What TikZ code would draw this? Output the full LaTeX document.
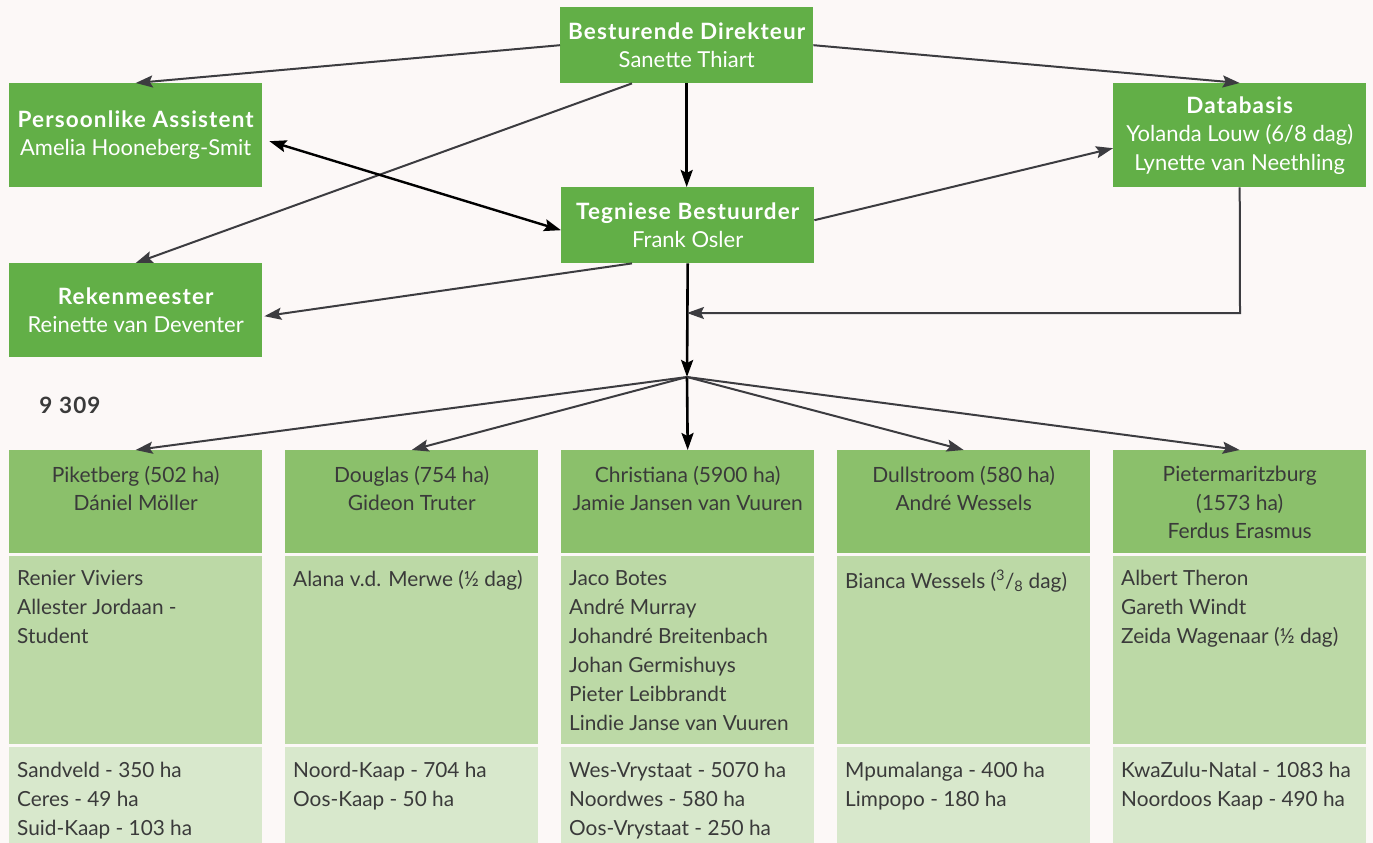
\documentclass[tikz,border=0pt]{standalone}
\usepackage{fontspec}
\setmainfont{Lato}
\usetikzlibrary{arrows.meta,calc}
\definecolor{bg}{HTML}{FCF8F7}
\definecolor{dkgreen}{HTML}{62AF47}
\definecolor{hdgreen}{HTML}{8BC06B}
\definecolor{midgreen}{HTML}{BCD9A6}
\definecolor{ltgreen}{HTML}{D8E8CC}
\definecolor{txt}{HTML}{3A3A3A}
\definecolor{arr}{HTML}{3C3C40}
\newcommand{\ttl}[1]{{\fontsize{22.5}{28.5}\selectfont\bfseries\addfontfeature{LetterSpace=5}#1}}
\begin{document}
\begin{tikzpicture}[x=1pt,y=-1pt,
  topbox/.style={fill=dkgreen, text=white, align=center, minimum width=253pt, inner sep=0pt,
    font=\fontsize{22}{28.5}\selectfont, anchor=north west},
  colbox/.style={minimum width=253pt, inner sep=0pt, anchor=north west},
  hdtext/.style={text=txt, align=center, anchor=north, inner sep=0pt, font=\fontsize{21}{28.5}\selectfont},
  bodytext/.style={text=txt, align=left, anchor=north west, inner sep=0pt, font=\fontsize{20.8}{29}\selectfont},
  thinarrow/.style={draw=arr, line width=2pt, -{Stealth[length=17pt,width=12pt,inset=3pt]}},
  thickarrow/.style={draw=black, line width=2.6pt, -{Stealth[length=17pt,width=12pt,inset=3pt]}},
  dblarrow/.style={draw=black, line width=2.4pt, {Stealth[length=17pt,width=12pt,inset=3pt]}-{Stealth[length=17pt,width=12pt,inset=3pt]}},
]
\fill[bg] (0,0) rectangle (1373,843);
\useasboundingbox (0,0) rectangle (1373,843);

% top boxes
\node[topbox, minimum height=76pt] (BD) at (560,7) {\ttl{Besturende Direkteur}\\Sanette Thiart};
\node[topbox, minimum height=76pt] (TB) at (561,187) {\ttl{Tegniese Bestuurder}\\Frank Osler};
\node[topbox, minimum height=104pt] (PA) at (9,83) {\ttl{Persoonlike Assistent}\\Amelia Hooneberg-Smit};
\node[topbox, minimum height=94pt] (RK) at (9,263) {\ttl{Rekenmeester}\\Reinette van Deventer};
\node[topbox, minimum height=104pt] (DB) at (1113,83) {\ttl{Databasis}\\Yolanda Louw (6/8 dag)\\Lynette van Neethling};

\node[text=txt, inner sep=0pt] (num) at (70,405) {\ttl{9 309}};

% columns
\foreach \i/\x in {1/9,2/285,3/561,4/837,5/1113}{
  \node[colbox, fill=hdgreen, minimum height=103pt] (H\i) at (\x,450) {};
  \node[colbox, fill=midgreen, minimum height=188pt] (M\i) at (\x,556) {};
  \node[colbox, fill=ltgreen, minimum height=100pt] (L\i) at (\x,747) {};
}

\node[hdtext] (h1t) at ($(H1.north)+(0,16)$) {Piketberg (502 ha)\\Dániel Möller};
\node[hdtext] (h2t) at ($(H2.north)+(0,16)$) {Douglas (754 ha)\\Gideon Truter};
\node[hdtext] (h3t) at ($(H3.north)+(0,16)$) {Christiana (5900 ha)\\Jamie Jansen van Vuuren};
\node[hdtext] (h4t) at ($(H4.north)+(0,16)$) {Dullstroom (580 ha)\\André Wessels};
\node[hdtext] (h5t) at ($(H5.north)+(0,16)$) {Pietermaritzburg\\(1573 ha)\\Ferdus Erasmus};

\node[bodytext] (m1t) at ($(M1.north west)+(8,14)$) {Renier Viviers\\Allester Jordaan -\\Student};
\node[bodytext] (m2t) at ($(M2.north west)+(8,14)$) {Alana v.d. Merwe (½ dag)};
\node[bodytext] (m3t) at ($(M3.north west)+(8,14)$) {Jaco Botes\\André Murray\\Johandré Breitenbach\\Johan Germishuys\\Pieter Leibbrandt\\Lindie Janse van Vuuren};
\node[bodytext] (m4t) at ($(M4.north west)+(8,14)$) {Bianca Wessels (\textsuperscript{3}/\textsubscript{8} dag)};
\node[bodytext] (m5t) at ($(M5.north west)+(8,14)$) {Albert Theron\\Gareth Windt\\Zeida Wagenaar (½ dag)};

\node[bodytext] (l1t) at ($(L1.north west)+(8,15)$) {Sandveld - 350 ha\\Ceres - 49 ha\\Suid-Kaap - 103 ha};
\node[bodytext] (l2t) at ($(L2.north west)+(8,15)$) {Noord-Kaap - 704 ha\\Oos-Kaap - 50 ha};
\node[bodytext] (l3t) at ($(L3.north west)+(8,15)$) {Wes-Vrystaat - 5070 ha\\Noordwes - 580 ha\\Oos-Vrystaat - 250 ha};
\node[bodytext] (l4t) at ($(L4.north west)+(8,15)$) {Mpumalanga - 400 ha\\Limpopo - 180 ha};
\node[bodytext] (l5t) at ($(L5.north west)+(8,15)$) {KwaZulu-Natal - 1083 ha\\Noordoos Kaap - 490 ha};

% connectors
\coordinate (hub) at (687,377);
\coordinate (loopc) at (1240,313);
\draw[thinarrow] (BD.west |- BD.center) -- (PA.north);
\draw[thinarrow] (BD.east) -- (DB.north);
\draw[thinarrow] ($(BD.south west)+(72,0)$) -- (RK.north);
\draw[thickarrow] (BD.south) -- (BD.south |- TB.north);
\draw[dblarrow] ($(PA.east)+(7,6)$) -- ($(TB.west)+(0,5)$);
\draw[thinarrow] ($(TB.east)+(0,-5)$) -- ($(DB.west)+(0,13)$);
\draw[thinarrow] ($(TB.south west)+(71,0)$) -- ($(RK.east)+(2,6)$);
\draw[thickarrow] (TB.south) -- (hub);
\draw[thinarrow] (DB.south) -- (loopc) -- (hub |- loopc);
\draw[thinarrow] (hub) -- (H1.north);
\draw[thinarrow] (hub) -- (H2.north);
\draw[thickarrow] (hub) -- (H3.north);
\draw[thinarrow] (hub) -- (H4.north);
\draw[thinarrow] (hub) -- (H5.north);
\end{tikzpicture}
\end{document}
